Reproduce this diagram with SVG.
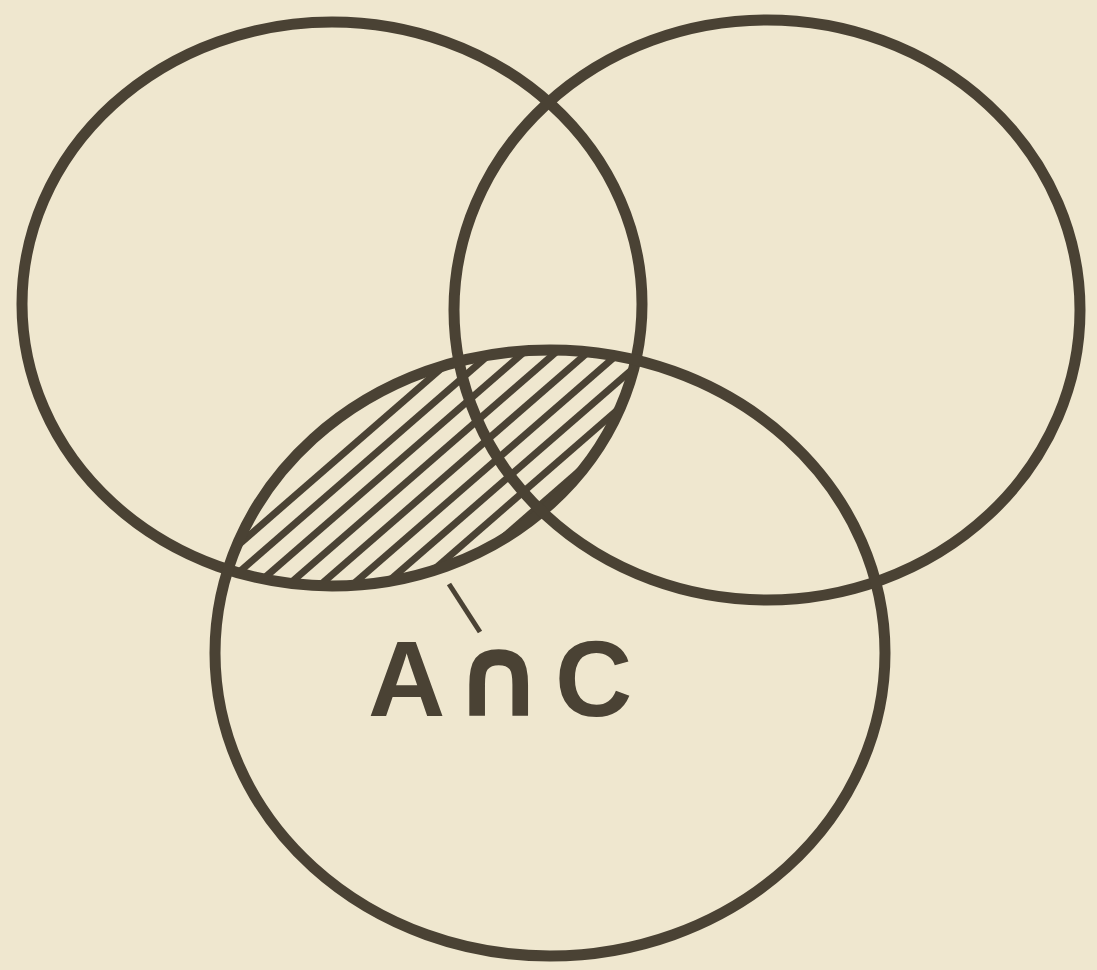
<svg xmlns="http://www.w3.org/2000/svg" width="1097" height="970" viewBox="0 0 1097 970">
<style>
.c{fill:none;stroke:#4a4234;stroke-width:11}
.h{stroke:#4a4234;stroke-width:7}
.t{font-family:"Liberation Sans","DejaVu Sans",sans-serif;font-weight:bold;font-size:107px;fill:#4a4234}
.n{font-family:"DejaVu Sans",sans-serif;font-weight:bold;font-size:115px;fill:#4a4234}
</style>
<defs>
<clipPath id="clipA"><ellipse cx="332" cy="304" rx="310" ry="282"/></clipPath>
<clipPath id="clipC"><ellipse cx="550" cy="653" rx="335" ry="303"/></clipPath>
</defs>
<rect width="1097" height="970" fill="#efe7cf"/>
<g id="hatch" clip-path="url(#clipA)">
<g clip-path="url(#clipC)">
<g class="h">
<line x1="60" y1="700" x2="520" y2="300"/>
<line x1="92" y1="700" x2="552" y2="300"/>
<line x1="124" y1="700" x2="584" y2="300"/>
<line x1="156" y1="700" x2="616" y2="300"/>
<line x1="188" y1="700" x2="648" y2="300"/>
<line x1="220" y1="700" x2="680" y2="300"/>
<line x1="252" y1="700" x2="712" y2="300"/>
<line x1="284" y1="700" x2="744" y2="300"/>
<line x1="316" y1="700" x2="776" y2="300"/>
<line x1="348" y1="700" x2="808" y2="300"/>
<line x1="380" y1="700" x2="840" y2="300"/>
<line x1="412" y1="700" x2="872" y2="300"/>
<line x1="444" y1="700" x2="904" y2="300"/>
<line x1="476" y1="700" x2="936" y2="300"/>
</g>
</g>
</g>
<g id="A"><ellipse class="c" cx="332" cy="304" rx="310" ry="282"/></g>
<g id="B"><ellipse class="c" cx="767" cy="310" rx="313" ry="290"/></g>
<g id="C"><ellipse class="c" cx="550" cy="653" rx="335" ry="303"/></g>
<g id="connectors"><line x1="449" y1="584" x2="480" y2="632" stroke="#4a4234" stroke-width="5"/></g>
<g id="label"><text y="716"><tspan class="t" x="368">A</tspan><tspan class="n" x="452">∩</tspan><tspan class="t" x="555">C</tspan></text></g>
</svg>
